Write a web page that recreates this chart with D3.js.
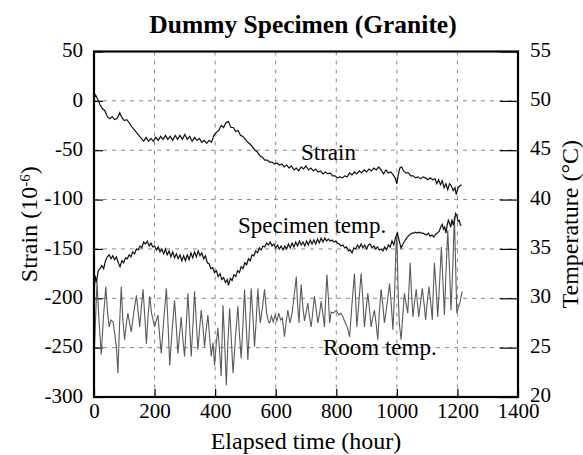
<!DOCTYPE html>
<html><head><meta charset="utf-8">
<script src="https://cdn.jsdelivr.net/npm/d3@7"></script>
<style>
html,body{margin:0;padding:0;background:#fff;}
</style></head>
<body><svg id="chart" width="583" height="455"></svg>
<script>
const xTicks = [0,200,400,600,800,1000,1200,1400];
const strainTicks = [-300,-250,-200,-150,-100,-50,0,50];
const tempTicks = [20,25,30,35,40,45,50,55];

// [elapsed hours, strain (1e-6)]
const strainData = [[0,2],[5,6],[12,2],[20,-4],[28,-8],[36,-10],[44,-16],[52,-18],[60,-16],[68,-19],[76,-18],[85,-12],[92,-17],[100,-20],[108,-19],[116,-22],[124,-26],[132,-29],[140,-32],[148,-35],[156,-38],[164,-41],[172,-37],[180,-41],[188,-38],[196,-41],[204,-37],[212,-40],[220,-36],[228,-39],[236,-35],[244,-39],[252,-36],[260,-40],[268,-35],[276,-39],[284,-35],[292,-39],[300,-34],[308,-39],[316,-36],[324,-41],[332,-37],[340,-40],[348,-38],[356,-42],[364,-40],[372,-43],[380,-40],[388,-42],[396,-35],[404,-32],[412,-30],[420,-25],[428,-27],[436,-22],[444,-21],[452,-27],[460,-27],[468,-31],[476,-30],[484,-35],[492,-36],[500,-39],[508,-42],[516,-44],[524,-47],[532,-50],[540,-52],[548,-56],[556,-57],[564,-60],[572,-60],[580,-62],[588,-62],[596,-64],[604,-63],[612,-65],[620,-64],[628,-67],[636,-65],[644,-68],[652,-66],[660,-70],[668,-68],[676,-71],[684,-67],[692,-69],[700,-66],[708,-70],[716,-68],[724,-71],[732,-69],[740,-72],[748,-71],[756,-74],[764,-72],[772,-74],[780,-73],[788,-76],[796,-76],[804,-78],[812,-77],[820,-78],[828,-76],[836,-77],[844,-73],[852,-75],[860,-72],[868,-74],[876,-71],[884,-73],[892,-70],[900,-72],[908,-69],[916,-71],[924,-68],[932,-70],[940,-67],[948,-70],[956,-74],[964,-70],[972,-73],[980,-72],[988,-75],[994,-78],[1000,-84],[1004,-76],[1010,-68],[1016,-67],[1022,-71],[1030,-73],[1038,-73],[1046,-76],[1054,-76],[1062,-78],[1070,-77],[1078,-79],[1086,-77],[1094,-78],[1102,-80],[1110,-78],[1118,-80],[1126,-79],[1132,-84],[1138,-80],[1144,-85],[1150,-81],[1156,-88],[1162,-84],[1168,-90],[1174,-84],[1180,-86],[1186,-91],[1192,-88],[1196,-95],[1202,-88],[1208,-86],[1214,-85]];

// [elapsed hours, specimen temperature (°C)]
const specimenTempData = [[0,30.5],[4,32.3],[8,31.6],[14,32.8],[20,33.0],[26,33.3],[32,33.0],[38,33.8],[44,34.2],[50,34.4],[56,34.0],[62,34.3],[68,33.9],[74,34.2],[80,33.6],[86,33.2],[92,33.8],[98,33.6],[104,34.1],[110,34.0],[116,34.4],[122,34.2],[128,34.7],[134,34.5],[140,35.0],[146,34.9],[152,35.3],[158,35.1],[164,35.7],[170,35.5],[176,35.8],[182,35.3],[188,35.6],[194,35.2],[200,35.3],[206,34.9],[212,35.2],[218,34.7],[224,35.0],[230,34.5],[236,35.0],[242,34.4],[248,34.8],[254,34.2],[260,34.7],[266,34.1],[272,34.5],[278,34.0],[284,34.4],[290,33.8],[296,34.3],[302,33.8],[308,34.4],[314,33.9],[320,34.6],[326,34.1],[332,34.7],[338,34.2],[344,34.8],[350,34.3],[356,34.6],[362,34.0],[368,34.3],[374,33.6],[380,33.5],[386,33.0],[392,33.1],[398,32.6],[404,32.8],[410,32.2],[416,32.5],[422,31.9],[428,32.1],[434,31.6],[440,31.9],[444,31.3],[450,32.0],[456,31.8],[462,32.4],[468,32.2],[474,32.8],[480,32.6],[486,33.2],[492,33.0],[498,33.6],[504,33.4],[510,34.0],[516,33.8],[522,34.4],[528,34.3],[534,34.8],[540,34.6],[546,35.1],[552,34.9],[558,35.3],[564,35.2],[570,35.6],[576,35.4],[582,35.7],[588,35.3],[594,35.5],[600,35.1],[606,35.4],[612,35.0],[618,35.3],[624,34.9],[630,35.3],[636,35.0],[642,35.5],[648,35.1],[654,35.6],[660,35.2],[666,35.7],[672,35.3],[678,35.8],[684,35.4],[690,35.7],[696,35.3],[702,35.8],[708,35.4],[714,35.9],[720,35.5],[726,35.9],[732,35.5],[738,36.0],[744,35.6],[750,36.1],[756,35.7],[762,36.1],[768,35.8],[774,36.0],[780,35.8],[786,35.9],[792,35.7],[798,35.8],[804,35.6],[810,35.5],[816,35.3],[822,35.4],[828,35.1],[834,35.2],[840,34.8],[846,34.9],[852,34.6],[858,35.1],[864,35.0],[870,35.4],[876,35.1],[882,35.5],[888,35.1],[894,35.4],[900,35.0],[906,35.4],[912,35.5],[918,35.1],[924,35.3],[930,35.0],[936,35.2],[942,34.9],[948,35.0],[954,34.8],[960,35.2],[966,34.9],[972,35.4],[978,35.2],[984,35.8],[990,35.4],[996,36.2],[1002,36.6],[1008,35.8],[1014,35.1],[1020,35.5],[1026,35.8],[1032,36.1],[1038,36.3],[1044,36.5],[1050,36.6],[1056,36.6],[1062,36.7],[1068,36.6],[1074,36.7],[1080,36.6],[1086,36.6],[1092,36.5],[1098,36.4],[1104,36.6],[1110,36.3],[1116,36.4],[1122,36.2],[1128,36.5],[1134,36.6],[1140,36.8],[1146,37.3],[1150,37.5],[1154,37.0],[1158,37.2],[1162,36.6],[1166,37.4],[1170,37.9],[1174,37.6],[1178,37.2],[1182,38.0],[1186,37.4],[1190,37.8],[1194,38.6],[1198,38.4],[1202,37.8],[1206,37.9],[1210,37.4],[1214,37.4]];

// [elapsed hours, room temperature (°C)]
const roomTempData = [[0,23.5],[4,27],[10,31.7],[17,27.5],[24,24.3],[31,28],[39,31.2],[45,28.5],[50,27.1],[56,27.8],[63,27.6],[68,26.5],[74,25.1],[79,22.4],[84,27],[90,31.2],[95,28],[101,25.8],[107,27.5],[112,28.5],[118,27.4],[123,26.6],[131,28.5],[140,30.3],[146,28.6],[151,27.1],[156,29],[162,30.9],[168,28],[173,25.4],[178,28],[184,30.2],[190,28.5],[195,27.8],[200,27.1],[206,27.8],[211,28.3],[216,26.5],[222,24.4],[230,27.7],[239,31.0],[245,27],[250,23.2],[258,26.8],[266,29.8],[272,27],[277,24.4],[283,26.5],[288,28.1],[293,26],[299,24.1],[305,27.5],[310,30.5],[316,27],[321,24.1],[327,27.5],[332,30.7],[338,27.5],[343,24.8],[349,27],[354,28.8],[360,27],[365,25.1],[371,27],[376,28.3],[382,26],[387,24.1],[393,25.5],[398,23.2],[404,25.5],[409,27.0],[415,24.5],[420,22.1],[423,26],[426,29.3],[432,25],[437,21.2],[442,25.5],[448,29.0],[454,25.5],[459,22.4],[467,26],[475,29.2],[481,26],[486,23.9],[492,27.5],[497,30.9],[503,27],[508,23.75],[514,27.5],[519,31.0],[525,28],[530,25.1],[536,28],[541,31.0],[545,29],[549,27.5],[556,29],[563,30.9],[570,28.5],[576,27.6],[580,27.5],[586,28.2],[592,27.6],[598,28.3],[604,27.7],[610,28.5],[616,27.8],[622,28.0],[629,26.1],[634,27.5],[640,28.8],[647,27.5],[654,28.5],[660,30],[668,32.2],[672,29.5],[677,27.5],[680,29.5],[684,31.4],[690,29],[695,27.7],[700,28.5],[706,29.5],[711,28.2],[717,27.1],[722,28.5],[728,30.2],[734,28.8],[739,27.5],[745,28.5],[750,29.7],[756,28.4],[761,27.1],[765,30],[769,32.4],[774,30],[778,27.5],[783,28.6],[790,28.5],[800,28.8],[808,28.3],[815,28.5],[822,28.1],[830,27.5],[837,27],[844,26.1],[852,29.5],[860,32.5],[864,29.8],[868,27.1],[875,29.8],[882,32.5],[888,29.8],[893,27.1],[899,29],[904,30.5],[910,28.8],[915,27.1],[920,28],[926,28.8],[932,27.3],[937,25.8],[942,28.5],[948,30.9],[954,29.2],[959,27.5],[968,29.5],[976,31.5],[982,29.2],[987,26.8],[993,31],[997,35],[1000,36.6],[1004,31],[1008,27.5],[1014,25.8],[1019,28],[1025,30.5],[1030,29.5],[1036,28.5],[1040,31],[1044,33.6],[1048,30.8],[1053,28.1],[1058,29.5],[1064,30.9],[1068,29.5],[1072,28.1],[1078,29.5],[1084,31.0],[1090,29.4],[1095,27.8],[1100,29.5],[1106,31.2],[1112,29.5],[1117,27.8],[1120,30.5],[1124,33.6],[1130,30.8],[1135,28.1],[1141,31.5],[1147,35.2],[1152,31.8],[1157,28.3],[1162,32.5],[1168,36.9],[1174,32.8],[1179,28.8],[1185,33.5],[1190,38.3],[1194,33.4],[1198,28.5],[1204,29.2],[1208,29.5],[1212,30.2],[1216,30.7]];

const FONT = "Liberation Serif";
const svg = d3.select("#chart");
const L = 94, R = 518, T = 51.5, B = 397;

const x = d3.scaleLinear().domain([0,1400]).range([L,R]);
const yS = d3.scaleLinear().domain([-300,50]).range([B,T]);
const yT = d3.scaleLinear().domain([20,55]).range([B,T]);

// grid
const grid = svg.append("g").attr("stroke","#8a8a8a").attr("stroke-width",1).attr("stroke-dasharray","4,5");
grid.selectAll(".gx").data(xTicks.slice(1,-1)).join("line")
  .attr("x1",d=>x(d)).attr("x2",d=>x(d)).attr("y1",T).attr("y2",B);
grid.selectAll(".gy").data(strainTicks.slice(1,-1)).join("line")
  .attr("x1",L).attr("x2",R).attr("y1",d=>yS(d)).attr("y2",d=>yS(d));

// axes
const ax = svg.append("g").attr("transform",`translate(0,${B})`)
  .call(d3.axisBottom(x).tickValues(xTicks).tickSize(-8).tickPadding(6).tickFormat(d3.format("d")));
const ayl = svg.append("g").attr("transform",`translate(${L},0)`)
  .call(d3.axisLeft(yS).tickValues(strainTicks).tickSize(-9).tickPadding(11).tickFormat(d=>String(d)));
const ayr = svg.append("g").attr("transform",`translate(${R},0)`)
  .call(d3.axisRight(yT).tickValues(tempTicks).tickSize(-18).tickPadding(12).tickFormat(d3.format("d")));
[ax,ayl,ayr].forEach(g=>{
  g.select(".domain").remove();
  g.selectAll(".tick line").attr("stroke","#000").attr("stroke-width",1.2);
  g.selectAll(".tick text").style("font-size","21px").style("font-family",FONT).attr("fill","#000");
});
ayl.selectAll(".tick text").attr("dy","0.25em");
ayr.selectAll(".tick text").attr("dy","0.22em");

// lines
const lineS = d3.line().x(d=>x(d[0])).y(d=>yS(d[1]));
const lineT = d3.line().x(d=>x(d[0])).y(d=>yT(d[1]));
svg.append("path").datum(roomTempData).attr("d",lineT).attr("fill","none").attr("stroke","#5a5a5a").attr("stroke-width",1.1);
svg.append("path").datum(specimenTempData).attr("d",lineT).attr("fill","none").attr("stroke","#111").attr("stroke-width",1.2);
svg.append("path").datum(strainData).attr("d",lineS).attr("fill","none").attr("stroke","#111").attr("stroke-width",1.2);

// frame
svg.append("rect").attr("x",L).attr("y",T).attr("width",R-L).attr("height",B-T)
  .attr("fill","none").attr("stroke","#000").attr("stroke-width",2.2);

function txt(sel){ return sel.style("font-family",FONT).attr("fill","#000"); }

// title
txt(svg.append("text")).attr("x",303).attr("y",33).attr("text-anchor","middle")
  .style("font-size","25.5px").style("font-weight","bold").text("Dummy Specimen (Granite)");

// axis titles
txt(svg.append("text")).attr("x",306).attr("y",449).attr("text-anchor","middle")
  .style("font-size","24px").text("Elapsed time (hour)");
const lt = txt(svg.append("text")).attr("transform",`translate(37,${(T+B)/2}) rotate(-90)`)
  .attr("text-anchor","middle").style("font-size","24px");
lt.append("tspan").text("Strain (10");
lt.append("tspan").attr("dy","-0.45em").style("font-size","15px").text("-6");
lt.append("tspan").attr("dy","0.3em").text(")");
txt(svg.append("text")).attr("transform",`translate(578,${(T+B)/2}) rotate(-90)`)
  .attr("text-anchor","middle").style("font-size","24px").text("Temperature (°C)");

// annotations
const ann = [["Strain",301,160],["Specimen temp.",238,233],["Room temp.",323,355]];
txt(svg.selectAll(".ann").data(ann).join("text").attr("class","ann"))
  .attr("x",d=>d[1]).attr("y",d=>d[2]).style("font-size","23px").text(d=>d[0]);
</script></body></html>
